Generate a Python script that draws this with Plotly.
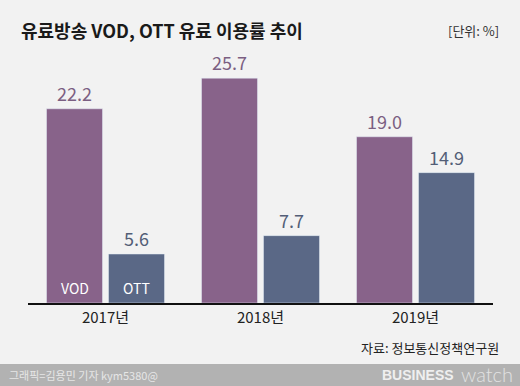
import plotly.graph_objects as go

categories = ["2017년", "2018년", "2019년"]
vod_values = [22.2, 25.7, 19.0]
ott_values = [5.6, 7.7, 14.9]
series_names = ["VOD", "OTT"]

title_text = "유료방송 VOD, OTT 유료 이용률 추이"
unit_text = "[단위: %]"
source_text = "자료: 정보통신정책연구원"
credit_text = "그래픽=김용민 기자 kym5380@"

W, H = 520, 386
L, R, T, B = 28, 27, 60, 83
PW, PH = W - L - R, H - T - B
FONT = "Noto Sans CJK KR"

def px(x):
    return (x - L) / PW

def py(y):
    return (H - B - y) / PH

VOD_C = "#88638a"
OTT_C = "#5a6886"

fig = go.Figure()
fig.add_bar(x=categories, y=vod_values, name=series_names[0], marker_color=VOD_C,
            text=[f"{v:.1f}" for v in vod_values], textposition="outside",
            outsidetextfont=dict(family=FONT, size=18, color="#7b5f82"),
            cliponaxis=False, hoverinfo="skip")
fig.add_bar(x=categories, y=ott_values, name=series_names[1], marker_color=OTT_C,
            text=[f"{v:.1f}" for v in ott_values], textposition="outside",
            outsidetextfont=dict(family=FONT, size=18, color="#535e77"),
            cliponaxis=False, hoverinfo="skip")

fig.update_layout(
    width=W, height=H,
    margin=dict(l=L, r=R, t=T, b=B, pad=0),
    paper_bgcolor="#f2f2f2", plot_bgcolor="#f2f2f2",
    barmode="group", bargap=0.2, bargroupgap=0.097,
    showlegend=False,
    xaxis=dict(showline=True, linecolor="#111111", linewidth=1.5, ticks="",
               tickfont=dict(family=FONT, size=15, color="#222222"),
               showgrid=False, fixedrange=True),
    yaxis=dict(range=[0, PH / 8.75], visible=False, showgrid=False, fixedrange=True),
)

shapes = [dict(type="rect", xref="paper", yref="paper",
               x0=px(0), x1=px(W), y0=py(364), y1=py(H + 2),
               fillcolor="#b2b2b2", line=dict(width=0), layer="above")]
fig.update_layout(shapes=shapes)

ann = []
ann.append(dict(text=f"<b>{title_text}</b>", x=px(19), y=py(30), xref="paper", yref="paper",
                xanchor="left", yanchor="middle", showarrow=False,
                font=dict(family=FONT, size=18, color="#1a1a1a")))
ann.append(dict(text=unit_text, x=px(501), y=py(31), xref="paper", yref="paper",
                xanchor="right", yanchor="middle", showarrow=False,
                font=dict(family=FONT, size=13, color="#333333")))
ann.append(dict(text=source_text, x=px(501), y=py(347), xref="paper", yref="paper",
                xanchor="right", yanchor="middle", showarrow=False,
                font=dict(family=FONT, size=13, color="#222222")))
ann.append(dict(text=credit_text, x=px(7), y=py(375), xref="paper", yref="paper",
                xanchor="left", yanchor="middle", showarrow=False,
                font=dict(family=FONT, size=11, color="#e6e6e6")))
ann.append(dict(text="<b>BUSINESS</b>", x=px(456), y=py(375), xref="paper", yref="paper",
                xanchor="right", yanchor="middle", showarrow=False,
                font=dict(family="Liberation Sans", size=14, color="#efefef")))
ann.append(dict(text="watch", x=px(459), y=py(374), xref="paper", yref="paper",
                xanchor="left", yanchor="middle", showarrow=False,
                font=dict(family="Lato", size=20, color="#e2e2e2", weight=300)))
# series labels inside first group
ann.append(dict(text=series_names[0], x=categories[0], xref="x", xshift=-31, y=py(288), yref="paper",
                xanchor="center", yanchor="middle", showarrow=False,
                font=dict(family=FONT, size=14, color="#ffffff")))
ann.append(dict(text=series_names[1], x=categories[0], xref="x", xshift=31, y=py(288), yref="paper",
                xanchor="center", yanchor="middle", showarrow=False,
                font=dict(family=FONT, size=14, color="#ffffff")))
fig.update_layout(annotations=ann)

fig.write_html("out.html", config={"displayModeBar": False},
               post_script="document.body.style.margin='0';document.body.style.background='#f2f2f2';")
